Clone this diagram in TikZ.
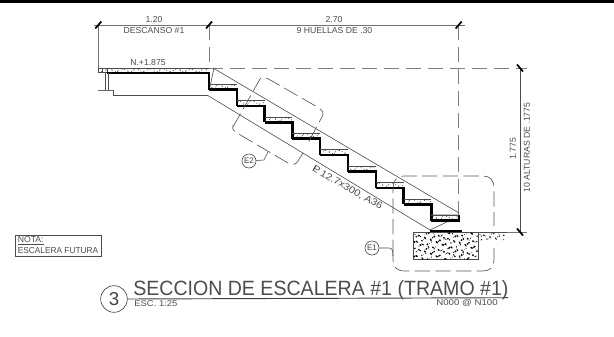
\documentclass[tikz,border=0pt]{standalone}
\usepackage{fontspec}
\usetikzlibrary{calc}
\setmainfont{Liberation Sans}
\tikzset{
  x=0.75pt,y=-0.75pt,
  dimline/.style={draw=black!55,line width=0.6pt},
  dimtick/.style={draw=black,line width=1.3pt},
  dashext/.style={draw=black!50,line width=0.6pt,dash pattern=on 11.25pt off 5.25pt},
  thin line/.style={draw=black!70,line width=0.45pt},
  cloud dash/.style={draw=black!65,line width=0.5pt,dash pattern=on 11.5pt off 4pt},
  heavy/.style={draw=black,line width=1.9pt},
  lab/.style={inner sep=0pt,text=black!70,font=\fontsize{6.5pt}{7pt}\selectfont},
  smalllab/.style={inner sep=0pt,text=black!70,font=\fontsize{6.3pt}{7pt}\selectfont},
  bubble/.style={circle,draw=black!70,line width=0.45pt,inner sep=0pt,minimum size=10.5pt,text=black!75,font=\fontsize{6pt}{7pt}\selectfont},
}
\begin{document}
\begin{tikzpicture}
\useasboundingbox (0,0) rectangle (614,336);
\fill[black] (0,0) rectangle (614,2.5);
% dimension lines
\coordinate (d1) at (98.3,25);
\coordinate (d2) at (209,25);
\coordinate (d3) at (458.7,25);
\coordinate (v1) at (520,68);
\coordinate (v2) at (520,232);
\draw[dimline] (94,25) -- (465,25);
\draw[dimline] (d1) -- (98.3,68);
\draw[dashext] (d2) -- (209,68);
\draw[dashext] (d3) -- (458.7,215);
\draw[dashext] (98,68) -- (527,68);
\draw[thin line] (v1) -- (v2);
\draw[dimline] (480,232) -- (527,232);
\foreach \cc in {d1,d2,d3} \draw[dimtick] ($(\cc)+(-3,3.5)$) -- ($(\cc)+(3,-3.5)$);
\foreach \cc in {v1,v2} \draw[dimtick] ($(\cc)+(-3,-3.5)$) -- ($(\cc)+(3,3.5)$);
% texts
\node[lab] (t1) at (154,19.5) {1.20};
\node[lab] (t2) at (154,31) {DESCANSO \#1};
\node[lab] (t3) at (334,19.5) {2.70};
\node[lab] (t4) at (334.5,31) {9 HUELLAS DE .30};
\node[lab] (t5) at (148,63) {N.+1.875};
\node[lab,rotate=90] (t6) at (513,149) {1.775};
\node[lab,rotate=90] (t7) at (527,147.5) {10 ALTURAS DE .1775};
\node[lab,rotate=-29.5] (t8) at (347.5,188) {\scalebox{1.25}[1.1]{\rlap{P}L 12.7x300, A36}};
% landing
\draw[thin line] (98,68) -- (209,68) (98,72) -- (107,72) (98,68) -- (98,72) (102,68) -- (102,72) (107,68) -- (107,72);
\draw[heavy] (107,72.8) -- (209,72.8) -- (209,89.5);
\draw[thin line] (105,73) -- (105,90) (108,73) -- (108,90);
\draw[draw=black!60,line width=1pt] (98,90.7) -- (113,90.7);
\draw[thin line] (113,90) -- (113,95) -- (207,95);
% plate
\draw[thin line] (207,95) -- (430,230);
\draw[thin line] (213,68) -- (459,213);
\draw[thin line] (214,68) -- (210,87);
% stairs
\foreach \i in {0,...,7} {
  \pgfmathsetmacro{\xa}{209+27.8*\i}
  \pgfmathsetmacro{\xb}{209+27.8*(\i+1)}
  \pgfmathsetmacro{\ya}{89.5+16.4*\i}
  \pgfmathsetmacro{\yb}{\ya+16.4}
  \draw[heavy] (\xa,\ya) -- (\xb,\ya) -- (\xb,\yb);
}
\draw[heavy] (431.4,220.7) -- (459.2,220.7) -- (459.2,215);
\draw[thin line] (459,215) -- (431.4,215) (430,230) -- (447,222);
% landing and tread concrete
\foreach \i in {0,...,8} {
  \pgfmathsetmacro{\xa}{209+27.8*\i}
  \pgfmathsetmacro{\ya}{89.5+16.4*\i}
  \draw[thin line] (\xa,\ya-5.5) -- (\xa+27.8,\ya-5.5);
  \foreach \k in {1,...,13} {
    \pgfmathsetmacro{\jx}{sin(\k*137+\i*71)}
    \pgfmathsetmacro{\jy}{sin(\k*53+\i*211)}
    \fill[black!75] (\xa+2*\k+\jx,\ya-3.2+1.6*\jy) circle (0.5);
  }
}
\foreach \k in {1,...,54} {
  \pgfmathsetmacro{\jx}{sin(\k*137)}
  \pgfmathsetmacro{\jy}{sin(\k*53)}
  \fill[black!75] (99+2*\k+\jx,70.2+1.4*\jy) circle (0.5);
}
% footing
\draw[thin line] (413,232) rectangle (478,259);
\draw[thin line] (478,232) -- (507,232);
\draw[line width=2pt] (430,231) -- (462,231);
\foreach \p in {0,...,21} \foreach \q in {0,...,8} {
  \pgfmathsetmacro{\jx}{sin(\p*137+\q*71)}
  \pgfmathsetmacro{\jy}{sin(\p*53+\q*211)}
  \pgfmathsetmacro{\rr}{0.65+0.4*sin(\p*97+\q*151)}
  \fill[black] (415+2.9*\p+1.3*\jx,234.5+2.9*\q+1.3*\jy) circle (\rr);
}
\foreach \p in {0,...,8} \foreach \q in {0,1,2} {
  \pgfmathsetmacro{\jx}{sin(\p*137+\q*71)}
  \pgfmathsetmacro{\jy}{sin(\p*53+\q*211)}
  \pgfmathsetmacro{\rr}{0.55+0.3*sin(\p*97+\q*151)}
  \fill[black!85] (480+2.9*\p+1.3*\jx,234.5+2.2*\q+\jy) circle (\rr);
}
% detail E1
\draw[cloud dash] (393,255) -- (393,190) .. controls (393,180) and (397,176) .. (405,176) -- (483,176) .. controls (490,176) and (494,180) .. (494,188) -- (494,226);
\draw[cloud dash] (494,248) -- (494,260) .. controls (494,267) and (490,271) .. (483,271) -- (405,271) .. controls (397,271) and (393,267) .. (393,260) -- (393,255);
\node[bubble] (e1) at (372,248) {E1};
\coordinate (e1end) at (393,256);
\draw[thin line] (e1) -- (389,248) .. controls (392,248) and (393,250) .. (e1end);
% detail E2
\draw[cloud dash] (233,127) -- (260,79) .. controls (263,75) and (266,78) .. (272,81) -- (319,108) .. controls (323,111) and (324,113) .. (322,117) -- (316,128);
\draw[cloud dash] (316,128) -- (307,145);
\draw[cloud dash] (303,153) -- (298,161) .. controls (296,165) and (292,165) .. (288,163) -- (237,133) .. controls (232,130) and (232,127) .. (233,125);
\node[bubble] (e2) at (249,161) {E2};
\coordinate (e2end) at (268,152);
\draw[thin line] (e2) -- (264,160) -- (e2end);
% note
\node[draw=black!70,line width=0.5pt,rectangle,minimum width=64pt,minimum height=16pt,inner sep=0pt] (nota) at (58.3,245.8) {};
\node[lab,anchor=west] (n1) at (17.5,240.5) {\underline{NOTA:}};
\node[lab,anchor=west] (n2) at (17.5,250.5) {\scalebox{0.96}[1]{ESCALERA FUTURA}};
% title
\node[circle,draw=black!70,line width=0.5pt,minimum size=20pt,inner sep=0pt,text=black!75,font=\fontsize{14pt}{15pt}\selectfont] (c3) at (114,299) {3};
\coordinate (tend) at (508,297.7);
\draw[draw=black!75,line width=0.7pt] (c3.east) -- (tend);
\node[inner sep=0pt,anchor=base west,text=black!70,font=\fontsize{15.5pt}{16pt}\selectfont] (title) at (133,295) {\scalebox{0.947}[1]{SECCION DE ESCALERA \#1 (TRAMO \#1)}};
\node[smalllab,anchor=west] (esc) at (134,303.5) {\scalebox{1.13}[1]{ESC. 1:25}};
\node[smalllab,anchor=east] (ref) at (498,303.5) {\scalebox{1.15}[1]{N000 @ N100}};
\end{tikzpicture}
\end{document}
